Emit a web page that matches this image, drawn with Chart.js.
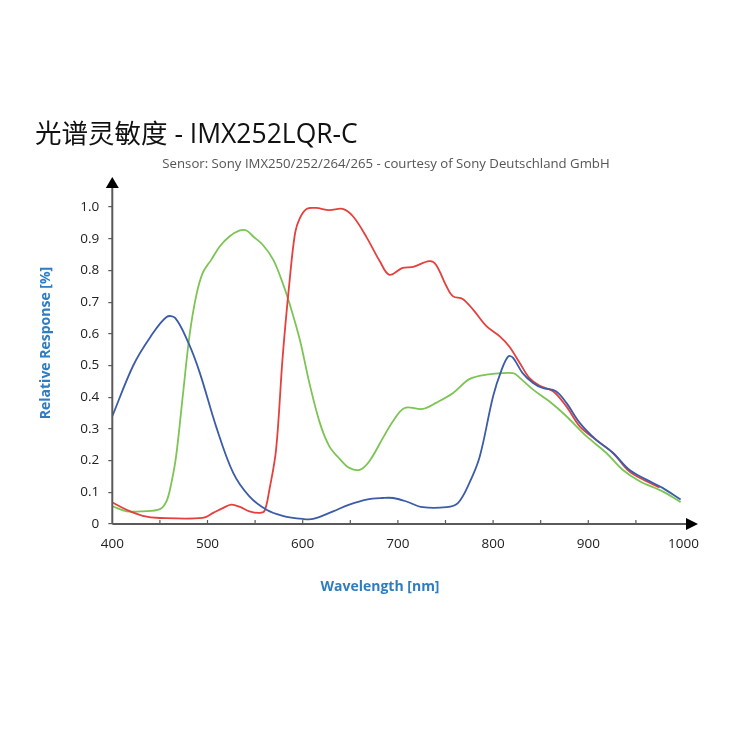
<!DOCTYPE html>
<html>
<head>
<meta charset="utf-8">
<script src="https://cdn.jsdelivr.net/npm/chart.js@4/dist/chart.umd.min.js"></script>
<style>
  body { margin: 0; background: #fff; }
  #wrap { width: 750px; height: 750px; }
</style>
</head>
<body>
<div id="wrap"><canvas id="myChart"></canvas></div>
<script>
// spectral response
var blueWl  = [400,422,440,457,466,480,492,509,527,544,562,579,600,611,632,649,667,684,695,709,726,751,763,775,786,800,809,816,821,831,842,852,866,877,891,908,926,943,961,978,997];
var blueVal = [0.34,0.50,0.59,0.653,0.65,0.571,0.476,0.308,0.161,0.087,0.045,0.026,0.016,0.016,0.04,0.061,0.077,0.082,0.082,0.071,0.053,0.053,0.066,0.129,0.213,0.403,0.487,0.529,0.524,0.476,0.445,0.429,0.419,0.382,0.319,0.266,0.224,0.171,0.14,0.114,0.077];

var redWl  = [400,415,432,450,495,506,516,525,534,544,555,560,565,572,579,586,592,597,604,614,628,642,653,667,681,691,705,716,733,740,751,758,768,779,793,807,817,828,838,849,863,877,891,908,926,943,961,975];
var redVal = [0.068,0.045,0.026,0.019,0.019,0.035,0.05,0.061,0.054,0.04,0.035,0.042,0.108,0.234,0.529,0.76,0.918,0.965,0.994,0.997,0.99,0.994,0.97,0.905,0.829,0.786,0.808,0.811,0.829,0.818,0.75,0.718,0.71,0.676,0.624,0.592,0.56,0.508,0.461,0.436,0.419,0.371,0.308,0.266,0.224,0.166,0.135,0.115];

var greenWl  = [400,415,432,450,457,462,467,474,481,488,495,504,513,523,534,541,548,558,569,579,586,597,607,618,628,639,649,660,670,684,695,707,726,740,758,775,793,821,828,842,859,877,898,919,936,954,978,997];
var greenVal = [0.056,0.04,0.04,0.047,0.072,0.129,0.213,0.403,0.592,0.718,0.792,0.834,0.876,0.907,0.926,0.926,0.907,0.881,0.834,0.76,0.697,0.581,0.445,0.319,0.245,0.205,0.177,0.171,0.198,0.27,0.325,0.366,0.363,0.382,0.413,0.457,0.471,0.476,0.461,0.424,0.387,0.34,0.277,0.224,0.171,0.135,0.103,0.069];

var xTicks = [400,500,600,700,800,900,1000];
var yTicks = [0,0.1,0.2,0.3,0.4,0.5,0.6,0.7,0.8,0.9,1.0];

var titleText = "光谱灵敏度 - IMX252LQR-C";
var subText = "Sensor: Sony IMX250/252/264/265 - courtesy of Sony Deutschland GmbH";
var xTitle = "Wavelength [nm]";
var yTitle = "Relative Response [%]";

function pts(wl, val) {
    return wl.map(function(w, i){ return {x: w, y: val[i]}; });
}

var axisColor = '#5a5a5a';
var textFont = '"Open Sans", "Noto Sans", sans-serif';

// axes with arrows, inner x ticks, titles
var decor = {
    id: 'decor',
    afterDatasetsDraw: function(chart){
        var c = chart.ctx, xs = chart.scales.x, ys = chart.scales.y;
        var x0 = xs.getPixelForValue(400), y0 = ys.getPixelForValue(0);
        c.save();
        c.strokeStyle = axisColor;
        c.fillStyle = '#000';
        c.lineWidth = 2;
        c.beginPath();
        c.moveTo(x0, y0); c.lineTo(x0, 186);
        c.moveTo(x0, y0); c.lineTo(688, y0);
        c.stroke();
        // arrows
        c.beginPath();
        c.moveTo(x0, 177); c.lineTo(x0 - 6.5, 188); c.lineTo(x0 + 6.5, 188); c.closePath();
        c.fill();
        c.beginPath();
        c.moveTo(698, y0); c.lineTo(686, y0 - 6); c.lineTo(686, y0 + 6); c.closePath();
        c.fill();
        // x minor ticks pointing up
        c.lineWidth = 1.2;
        c.beginPath();
        for (var v = 450; v < 1000; v += 50) {
            var px = xs.getPixelForValue(v);
            c.moveTo(px, y0); c.lineTo(px, y0 - 4);
        }
        c.stroke();
        c.restore();
    },
    afterDraw: function(chart){
        var c = chart.ctx;
        c.save();
        c.fillStyle = '#111';
        c.textBaseline = 'alphabetic';
        c.textAlign = 'left';
        c.font = '26.5px "Open Sans", "Noto Sans CJK SC", sans-serif';
        c.fillText(titleText, 35, 143);
        c.fillStyle = '#555';
        c.textAlign = 'center';
        c.font = '13.2px ' + textFont;
        c.fillText(subText, 386, 168);
        c.fillStyle = '#2f7dc1';
        c.font = 'bold 14px ' + textFont;
        c.textBaseline = 'middle';
        c.fillText(xTitle, 380, 587);
        c.translate(46, 343);
        c.rotate(-Math.PI / 2);
        c.fillText(yTitle, 0, 0);
        c.restore();
    }
};

var ctx = document.getElementById("myChart").getContext('2d');
var myChart = new Chart(ctx, {
    type: 'line',
    data: {
        datasets: [
            { label: 'Blue', data: pts(blueWl, blueVal), borderColor: '#3b5ca8', borderWidth: 1.8 },
            { label: 'Red', data: pts(redWl, redVal), borderColor: '#e5403d', borderWidth: 1.8 },
            { label: 'Green', data: pts(greenWl, greenVal), borderColor: '#7cc454', borderWidth: 1.8 }
        ]
    },
    options: {
        responsive: true,
        maintainAspectRatio: false,
        animation: false,
        layout: { padding: { top: 207, right: 66.5, left: 0, bottom: 0 } },
        elements: {
            point: { radius: 0 },
            line: { tension: 0.35, fill: false }
        },
        plugins: {
            legend: { display: false },
            tooltip: { enabled: false }
        },
        scales: {
            x: {
                type: 'linear',
                min: 400, max: 1000,
                afterFit: function(s){ s.height = 226; },
                afterBuildTicks: function(s){ s.ticks = xTicks.map(function(v){ return {value: v}; }); },
                grid: { display: false },
                border: { display: false },
                ticks: {
                    color: '#222', padding: 4, maxRotation: 0,
                    font: { family: textFont, size: 13.5 },
                    callback: function(v){ return String(v); }
                }
            },
            y: {
                min: 0, max: 1.0,
                afterFit: function(s){ s.width = 112.3; },
                afterBuildTicks: function(s){ s.ticks = yTicks.map(function(v){ return {value: v}; }); },
                grid: { drawOnChartArea: false, tickLength: 4, color: axisColor, lineWidth: 1.2 },
                border: { display: false },
                ticks: {
                    color: '#222', padding: 9,
                    font: { family: textFont, size: 13.5 },
                    callback: function(v){ return v === 0 ? '0' : v.toFixed(1); }
                }
            }
        }
    },
    plugins: [decor]
});
</script>
</body>
</html>
